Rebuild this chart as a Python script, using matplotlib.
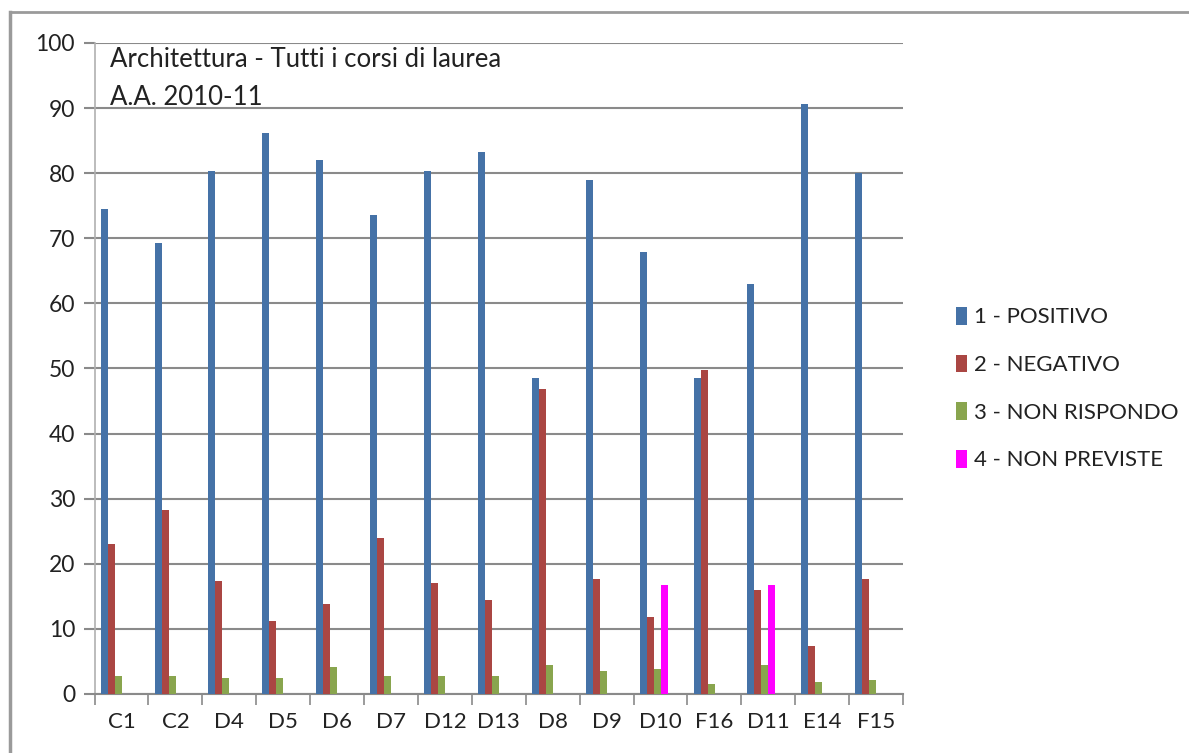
import matplotlib.pyplot as plt
import numpy as np
from matplotlib.lines import Line2D

plt.rcParams["font.family"] = ["Lato", "DejaVu Sans"]

categories = ["C1", "C2", "D4", "D5", "D6", "D7", "D12", "D13",
              "D8", "D9", "D10", "F16", "D11", "E14", "F15"]

positivo = [74.5, 69.2, 80.3, 86.2, 82.1, 73.6, 80.3, 83.3,
            48.6, 78.9, 67.9, 48.6, 63.0, 90.6, 80.0]
negativo = [23.0, 28.3, 17.4, 11.2, 13.8, 23.9, 17.1, 14.4,
            46.9, 17.7, 11.8, 49.8, 15.9, 7.4, 17.7]
non_rispondo = [2.7, 2.7, 2.4, 2.4, 4.2, 2.7, 2.7, 2.7,
                4.5, 3.5, 3.9, 1.5, 4.5, 1.9, 2.1]
non_previste = [0, 0, 0, 0, 0, 0, 0, 0,
                0, 0, 16.8, 0, 16.8, 0, 0]

series = [
    ("1 - POSITIVO", positivo, "#4572A7"),
    ("2 - NEGATIVO", negativo, "#AA4643"),
    ("3 - NON RISPONDO", non_rispondo, "#89A54E"),
    ("4 - NON PREVISTE", non_previste, "#FF00FF"),
]

fig = plt.figure(figsize=(11.89, 7.53), dpi=100)
ax = fig.add_axes([0.0795, 0.0784, 0.68, 0.8645])

x = np.arange(len(categories))
bar_w = 0.13
first_offset = -0.322
handles = []
for i, (label, vals, color) in enumerate(series):
    bars = ax.bar(x + first_offset + i * bar_w, vals, width=bar_w,
                  color=color, label=label, zorder=3, linewidth=0)
    handles.append(bars)

ax.set_xlim(-0.5, len(categories) - 0.5)
ax.set_ylim(0, 100)
ax.set_yticks(np.arange(0, 101, 10))
ax.yaxis.grid(True, color="#8a8a8a", linewidth=1.5, zorder=0)

# category ticks sit on the boundaries between groups
ax.set_xticks(x)
ax.set_xticklabels(categories)
ax.set_xticks(np.arange(-0.5, len(categories)), minor=True)
ax.tick_params(axis="x", which="major", length=0, pad=13, labelsize=16,
               labelcolor="#222222")
ax.tick_params(axis="x", which="minor", length=8, width=1.2, color="#8a8a8a")
ax.tick_params(axis="y", length=8, width=1.5, color="#8a8a8a", pad=6,
               labelsize=16.5, labelcolor="#222222")

for side in ["top", "right"]:
    ax.spines[side].set_visible(False)
ax.spines["left"].set_color("#b0b0b0")
ax.spines["left"].set_linewidth(1.2)
ax.spines["bottom"].set_color("#8a8a8a")
ax.spines["bottom"].set_linewidth(1.5)

# chart title, two lines inside the plot area
ax.text(-0.21, 96.3, "Architettura - Tutti i corsi di laurea",
        ha="left", va="baseline", fontsize=18.5, color="#222222")
ax.text(-0.21, 90.5, "A.A. 2010-11",
        ha="left", va="baseline", fontsize=18.5, color="#222222")

fig.legend(handles=handles, loc="upper left", bbox_to_anchor=(0.787, 0.619),
           frameon=False, fontsize=16, handlelength=0.5, handleheight=0.85,
           handletextpad=0.3, labelspacing=1.22, labelcolor="#222222")

# outer chart frame
fig.add_artist(Line2D([10 / 1189, 10 / 1189], [0, 1 - 12 / 753],
                      transform=fig.transFigure, color="#9a9a9a", linewidth=2.5))
fig.add_artist(Line2D([10 / 1189, 1], [1 - 12 / 753, 1 - 12 / 753],
                      transform=fig.transFigure, color="#9a9a9a", linewidth=2))

fig.savefig("out.png", dpi=100, facecolor="white")
